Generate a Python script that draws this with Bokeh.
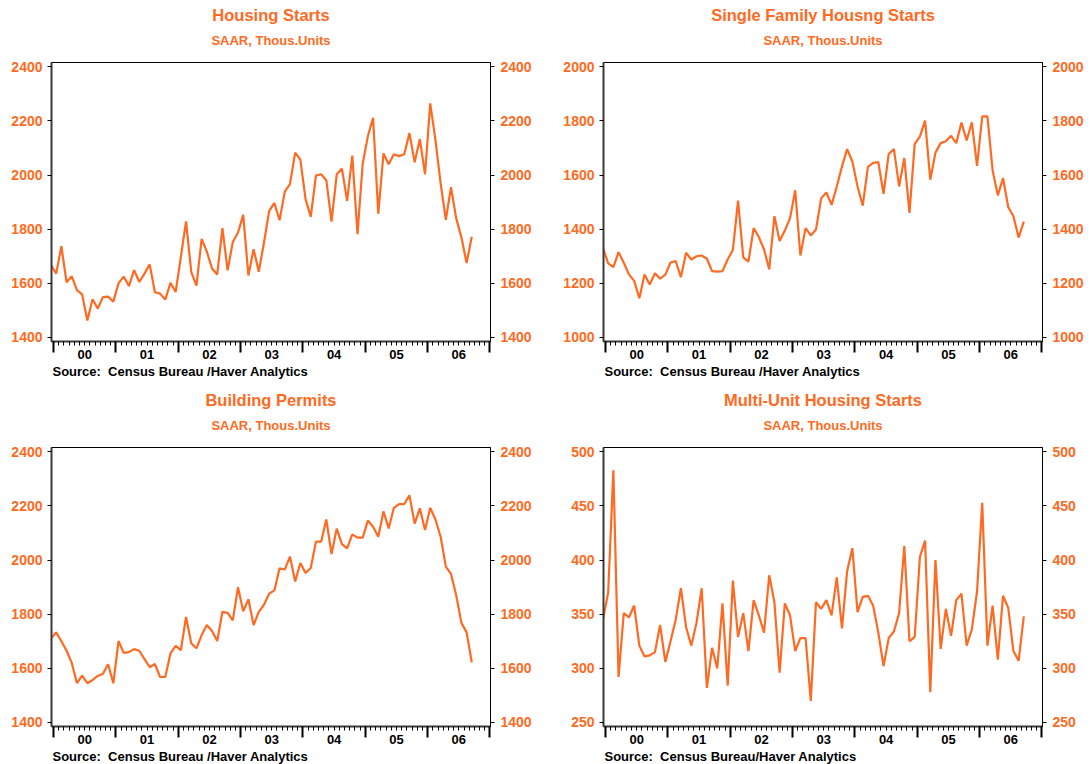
import pandas as pd
from bokeh.plotting import figure
from bokeh.models import LinearAxis, FixedTicker, Range1d, Title
from bokeh.layouts import gridplot
from bokeh.embed import file_html
from bokeh.resources import INLINE

# ---------------- data (monthly, Dec 1999 .. Sep 2006, SAAR thous. units) ----------------
months = pd.period_range("1999-12", "2006-09", freq="M")
year_labels = ["00", "01", "02", "03", "04", "05", "06"]

housing_starts = [
    1668,
    1636, 1737, 1604, 1626, 1575, 1559, 1463, 1541, 1507, 1549, 1551, 1532,
    1600, 1625, 1590, 1649, 1605, 1636, 1670, 1567, 1562, 1540, 1602, 1568,
    1698, 1829, 1642, 1592, 1764, 1717, 1655, 1633, 1804, 1648, 1753, 1788,
    1853, 1629, 1726, 1643, 1751, 1867, 1897, 1833, 1939, 1967, 2083, 2057,
    1911, 1846, 1998, 2003, 1981, 1828, 2002, 2024, 1905, 2072, 1782, 2042,
    2144, 2212, 1857, 2080, 2040, 2077, 2070, 2077, 2155, 2047, 2133, 2003,
    2265, 2130, 1970, 1835, 1955, 1840, 1770, 1675, 1772,
]

single_family = [
    1330,
    1274, 1260, 1315, 1276, 1233, 1209, 1145, 1233, 1196, 1237, 1217, 1232,
    1277, 1282, 1223, 1313, 1288, 1300, 1303, 1291, 1245, 1243, 1245, 1288,
    1323, 1506, 1296, 1280, 1404, 1371, 1325, 1252, 1448, 1356, 1395, 1440,
    1544, 1303, 1404, 1377, 1399, 1514, 1536, 1490, 1558, 1632, 1696, 1650,
    1558, 1487, 1630, 1645, 1648, 1531, 1678, 1696, 1558, 1663, 1460, 1715,
    1742, 1801, 1583, 1683, 1718, 1725, 1745, 1718, 1794, 1728, 1795, 1634,
    1817, 1817, 1617, 1525, 1589, 1482, 1448, 1369, 1428,
]

building_permits = [
    1710,
    1733, 1700, 1665, 1620, 1545, 1573, 1545, 1557, 1572, 1580, 1615, 1545,
    1701, 1657, 1660, 1671, 1665, 1634, 1604, 1616, 1568, 1568, 1655, 1683,
    1667, 1790, 1693, 1674, 1723, 1760, 1738, 1701, 1809, 1805, 1777, 1900,
    1811, 1855, 1760, 1809, 1835, 1876, 1888, 1970, 1965, 2013, 1921, 1989,
    1952, 1971, 2068, 2068, 2150, 2022, 2116, 2059, 2043, 2095, 2083, 2083,
    2146, 2123, 2086, 2180, 2117, 2193, 2207, 2207, 2239, 2135, 2191, 2111,
    2193, 2150, 2086, 1976, 1949, 1870, 1768, 1733, 1622,
]

multi_unit = [
    345,
    370, 483, 292, 351, 347, 358, 321, 311, 312, 315, 340, 306,
    325, 345, 374, 338, 321, 342, 374, 282, 319, 300, 360, 284,
    381, 329, 351, 316, 363, 349, 333, 386, 361, 296, 360, 349,
    316, 328, 328, 270, 361, 355, 363, 349, 384, 337, 390, 411,
    352, 366, 367, 358, 333, 302, 328, 334, 351, 413, 325, 329,
    403, 418, 278, 400, 318, 355, 330, 363, 369, 321, 336, 371,
    453, 321, 358, 308, 367, 356, 316, 307, 348,
]

ORANGE = "#FF6A22"
FONT = "Liberation Sans"
DARK = "#3a3a3a"


def month_pos(periods):
    # month index from Jan 2000, points placed mid-month
    return [(p.year - 2000) * 12 + (p.month - 1) + 0.5 for p in periods]


def make_panel(title, values, ylo, yhi, ystep, source, left_border, right_border,
               top_border, bottom_border):
    span = yhi - ylo
    p = figure(
        title=None,
        frame_width=439, frame_height=279,
        x_range=Range1d(-0.4, 84.1),
        y_range=Range1d(ylo - 0.0148 * span, yhi + 0.0159 * span),
        x_axis_type=None, y_axis_type=None,
        toolbar_location=None, output_backend="svg",
        min_border_left=left_border, min_border_right=right_border,
        min_border_top=top_border, min_border_bottom=bottom_border,
        background_fill_color="white", border_fill_color="white",
        outline_line_color="black", outline_line_width=1,
    )
    x = month_pos(months)
    p.line(x, values, line_color=ORANGE, line_width=2.2)

    yticks = list(range(ylo, yhi + 1, ystep))
    for side in ("left", "right"):
        ax = LinearAxis(ticker=FixedTicker(ticks=yticks))
        ax.major_tick_out = 4
        ax.major_tick_in = 0
        ax.minor_tick_out = 0
        ax.minor_tick_in = 0
        ax.major_tick_line_color = "black"
        ax.axis_line_color = DARK if side == "left" else "black"
        ax.axis_line_width = 2 if side == "left" else 1
        ax.major_label_text_color = ORANGE
        ax.major_label_text_font = FONT
        ax.major_label_text_font_style = "bold"
        ax.major_label_text_font_size = "14px"
        ax.major_label_standoff = 5 if side == "left" else 6
        p.add_layout(ax, side)

    # year boundary ticks + monthly minor ticks (no labels)
    xa = LinearAxis(ticker=FixedTicker(ticks=list(range(0, 85, 12)),
                                       minor_ticks=list(range(0, 85))))
    xa.major_tick_out = 11
    xa.major_tick_in = 0
    xa.minor_tick_out = 4
    xa.minor_tick_in = 0
    xa.major_tick_line_color = "black"
    xa.minor_tick_line_color = "black"
    xa.major_tick_line_width = 2
    xa.axis_line_color = DARK
    xa.axis_line_width = 2
    xa.major_label_text_color = None
    xa.major_label_standoff = 0
    p.add_layout(xa, "below")

    # year labels centred in each year
    mids = [6 + 12 * i for i in range(len(year_labels))]
    xl = LinearAxis(ticker=FixedTicker(ticks=mids),
                    major_label_overrides={m: lab for m, lab in zip(mids, year_labels)})
    xl.major_tick_out = 0
    xl.major_tick_in = 0
    xl.minor_tick_out = 0
    xl.minor_tick_in = 0
    xl.axis_line_color = None
    xl.major_label_text_font = FONT
    xl.major_label_text_font_style = "bold"
    xl.major_label_text_font_size = "13px"
    xl.major_label_text_color = "black"
    xl.major_label_standoff = -3
    p.add_layout(xl, "below")

    p.add_layout(Title(text=source, align="left", vertical_align="bottom", standoff=0, offset=1,
                       text_font=FONT, text_font_style="bold", text_font_size="13px",
                       text_color="black"), "below")

    p.add_layout(Title(text="SAAR, Thous.Units", align="center", standoff=30,
                       text_font=FONT, text_font_style="bold", text_font_size="13px",
                       text_color=ORANGE), "above")
    p.add_layout(Title(text=title, align="center", standoff=-16,
                       text_font=FONT, text_font_style="bold", text_font_size="16.5px",
                       text_color=ORANGE), "above")
    return p


SRC = "Source:\u00a0 Census Bureau /Haver Analytics"
SRC_MU = "Source:\u00a0 Census Bureau/Haver Analytics"

# left column: 560 px wide (frame at x=51); right column starts at x=560 (frame at 603)
# top row: 384 px tall (frame at y=62); bottom row starts at y=384 (frame at 447)
p1 = make_panel("Housing Starts", housing_starts, 1400, 2400, 200, SRC, 51, 70, 62, 43)
p2 = make_panel("Single Family Housng Starts", single_family, 1000, 2000, 200, SRC, 43, 50, 62, 43)
p3 = make_panel("Building Permits", building_permits, 1400, 2400, 200, SRC, 51, 70, 63, 38)
p4 = make_panel("Multi-Unit Housing Starts", multi_unit, 250, 500, 50, SRC_MU, 43, 50, 63, 38)

grid = gridplot([[p1, p2], [p3, p4]], toolbar_location=None)

open("out.html", "w").write(file_html(grid, INLINE))
